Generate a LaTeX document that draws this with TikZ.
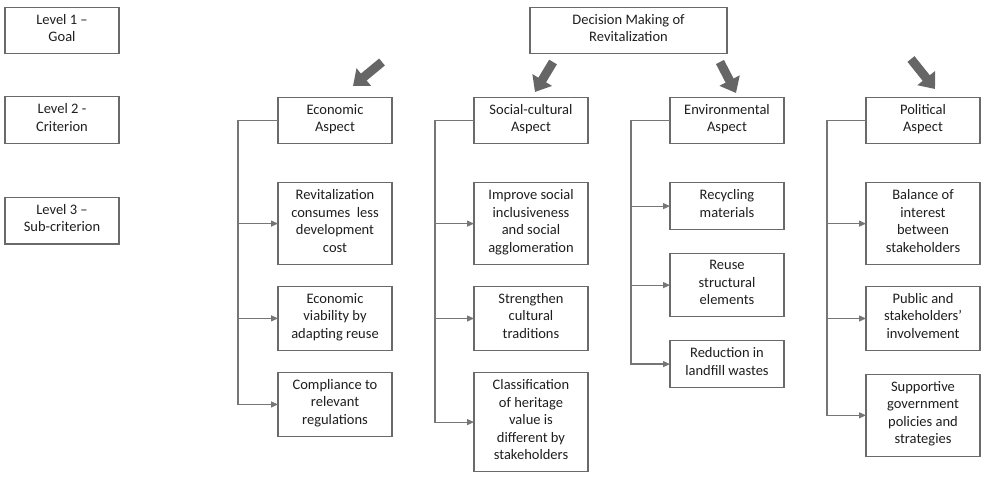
\documentclass[tikz,border=0pt]{standalone}
\usepackage{fontspec}
\setmainfont{Carlito}
\usetikzlibrary{positioning}
\usetikzlibrary{arrows.meta}

\definecolor{boxgray}{HTML}{6A6A6A}
\definecolor{linkgray}{HTML}{767676}
\definecolor{bigarrowgray}{HTML}{666666}
\definecolor{textgray}{HTML}{1E1E1E}

\begin{document}
\begin{tikzpicture}
		\tikzstyle{elem} = [rectangle, minimum width=114pt, inner xsep=3pt, inner ysep=6.9pt, outer sep=0pt, align=center, draw=boxgray, line width=1.1pt, text=textgray, font=\fontsize{14.5}{17.5}\selectfont, execute at begin node=\strut, execute at end node=\strut]
		\tikzstyle{link} = [-{Triangle[length=7pt,width=6pt]}, draw=linkgray, line width=1.2pt]
		\tikzstyle{bigarrow} = [-{Triangle[length=14pt,width=22pt]}, draw=bigarrowgray, line width=9pt]

		\useasboundingbox (0,0) rectangle (983pt,-477pt);

		\node (goal) [elem] at (62pt,-30.5pt) {Level 1 –\\Goal};
		\node (crit) [elem, below=43pt of goal] {Level 2 -\\Criterion};
		\node (subcrit) [elem, below=54pt of crit] {Level 3 –\\Sub-criterion};

		\node (decision) [elem, minimum width=197pt] at (628.5pt,-30.5pt) {Decision Making of\\Revitalization};

		\node (econA) [elem] at (335pt,-120.5pt) {Economic\\Aspect};
		\node (socA) [elem, right=82pt of econA] {Social-cultural\\Aspect};
		\node (envA) [elem, right=82pt of socA] {Environmental\\Aspect};
		\node (polA) [elem, right=82pt of envA] {Political\\Aspect};

		\node (econ1) [elem, below=39pt of econA] {Revitalization\\consumes\ \ less\\development\\cost};
		\node (econ2) [elem, below=22pt of econ1] {Economic\\viability by\\adapting reuse};
		\node (econ3) [elem, below=22pt of econ2] {Compliance to\\relevant\\regulations};

		\node (soc1) [elem, below=39pt of socA] {Improve social\\inclusiveness\\and social\\agglomeration};
		\node (soc2) [elem, below=22pt of soc1] {Strengthen\\cultural\\traditions};
		\node (soc3) [elem, below=22pt of soc2] {Classification\\of heritage\\value is\\different by\\stakeholders};

		\node (env1) [elem, below=39pt of envA] {Recycling\\materials};
		\node (env2) [elem, below=24pt of env1] {Reuse\\structural\\elements};
		\node (env3) [elem, below=24pt of env2] {Reduction in\\landfill wastes};

		\node (pol1) [elem, below=39pt of polA] {Balance of\\interest\\between\\stakeholders};
		\node (pol2) [elem, below=22pt of pol1] {Public and\\stakeholders’\\involvement};
		\node (pol3) [elem, below=24pt of pol2] {Supportive\\government\\policies and\\strategies};

		\coordinate (econTail) at (382pt,-62pt);
		\coordinate (econTip) at (353pt,-86pt);
		\coordinate (socTail) at (553pt,-62pt);
		\coordinate (socTip) at (535pt,-92pt);
		\coordinate (envTail) at (720pt,-62pt);
		\coordinate (envTip) at (736pt,-93pt);
		\coordinate (polTail) at (911pt,-59pt);
		\coordinate (polTip) at (935pt,-89pt);

		\draw [bigarrow] (econTail) -- (econTip);
		\draw [bigarrow] (socTail) -- (socTip);
		\draw [bigarrow] (envTail) -- (envTip);
		\draw [bigarrow] (polTail) -- (polTip);

		\draw [link] (econA.west) -- ++(-40pt,0) |- (econ1.west);
		\draw [link] (econA.west) -- ++(-40pt,0) |- (econ2.west);
		\draw [link] (econA.west) -- ++(-40pt,0) |- (econ3.west);

		\draw [link] (socA.west) -- ++(-39pt,0) |- (soc1.west);
		\draw [link] (socA.west) -- ++(-39pt,0) |- (soc2.west);
		\draw [link] (socA.west) -- ++(-39pt,0) |- (soc3.west);

		\draw [link] (envA.west) -- ++(-39pt,0) |- (env1.west);
		\draw [link] (envA.west) -- ++(-39pt,0) |- (env2.west);
		\draw [link] (envA.west) -- ++(-39pt,0) |- (env3.west);

		\draw [link] (polA.west) -- ++(-39pt,0) |- (pol1.west);
		\draw [link] (polA.west) -- ++(-39pt,0) |- (pol2.west);
		\draw [link] (polA.west) -- ++(-39pt,0) |- (pol3.west);
	\end{tikzpicture}
\end{document}
